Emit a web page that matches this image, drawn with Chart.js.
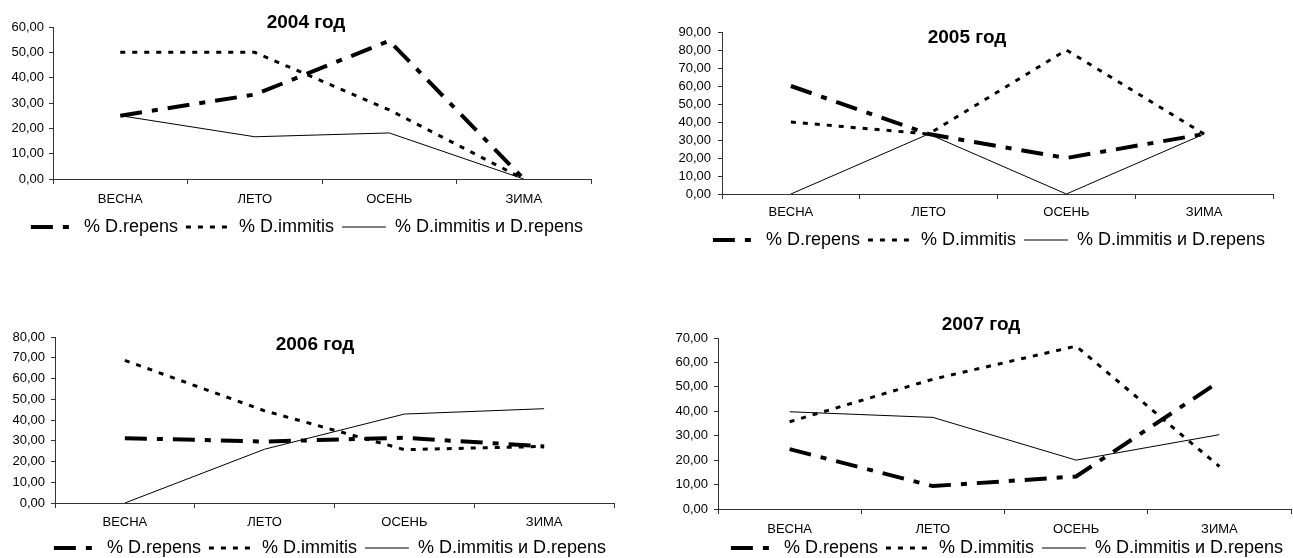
<!DOCTYPE html>
<html><head><meta charset="utf-8">
<script src="https://cdn.jsdelivr.net/npm/chart.js@4.4.1/dist/chart.umd.min.js"></script>
<style>
html,body{margin:0;padding:0;background:#fff;overflow:hidden;width:1293px;height:558px;position:relative;}
.box{position:absolute;}
canvas{display:block;}
</style></head><body>
<div class="box" style="left:0;top:0"><canvas id="c1" width="625" height="259"></canvas></div>
<div class="box" style="left:650px;top:0"><canvas id="c2" width="643" height="274"></canvas></div>
<div class="box" style="left:0;top:290px"><canvas id="c3" width="640" height="293"></canvas></div>
<div class="box" style="left:650px;top:290px"><canvas id="c4" width="643" height="299"></canvas></div>
<script>
// ---- data ----
const seasons = ['ВЕСНА', 'ЛЕТО', 'ОСЕНЬ', 'ЗИМА'];
const seriesNames = ['% D.repens', '% D.immitis', '% D.immitis и D.repens'];
const chartTitles = ['2004 год', '2005 год', '2006 год', '2007 год'];
const yMaxValues = [60, 90, 80, 70];

const repens2004 = [25.00, 33.33, 54.55, 0];
const immitis2004 = [50.00, 50.00, 27.27, 0];
const both2004 = [25.00, 16.67, 18.18, 0];

const repens2005 = [60.00, 33.33, 20.00, 33.33];
const immitis2005 = [40.00, 33.33, 80.00, 33.33];
const both2005 = [0, 33.33, 0, 33.33];

const repens2006 = [31.25, 29.63, 31.43, 27.27];
const immitis2006 = [68.75, 44.44, 25.71, 27.27];
const both2006 = [0, 25.93, 42.86, 45.45];

const repens2007 = [24.49, 9.38, 13.33, 52.17];
const immitis2007 = [35.71, 53.13, 66.67, 17.39];
const both2007 = [39.80, 37.50, 20.00, 30.43];

const FONT = '"Liberation Sans", Arial, Helvetica, sans-serif';
Chart.defaults.font.family = FONT;
Chart.defaults.color = '#000';

const LEG_FONT = 18, LEG_PAD = 8;

const innerTitle = {
  id: 'innerTitle',
  afterLayout(chart, args, opts) {
    // place the legend row at the requested vertical centre
    const L = chart.legend;
    if (L && opts.legY != null) {
      const h = L.height;
      L.top = opts.legY - LEG_PAD - LEG_FONT / 2;
      L.bottom = L.top + h;
    }
  },
  afterDraw(chart, args, opts) {
    const ctx = chart.ctx;
    ctx.save();
    ctx.font = 'bold 19px ' + FONT;
    ctx.fillStyle = '#000';
    ctx.textAlign = 'center';
    ctx.textBaseline = 'middle';
    ctx.fillText(opts.text, opts.x, opts.y);
    ctx.restore();
  }
};

function makeChart(id, title, yMax, repens, immitis, both, g) {
  const axisColor = '#333';
  return new Chart(document.getElementById(id), {
    type: 'line',
    data: {
      labels: seasons,
      datasets: [
        { label: seriesNames[0], data: repens, borderColor: '#000', backgroundColor: '#000',
          borderWidth: 4, borderDash: [22, 10, 6, 10], pointRadius: 0, pointHoverRadius: 0, tension: 0 },
        { label: seriesNames[1], data: immitis, borderColor: '#000', backgroundColor: '#000',
          borderWidth: 3, borderDash: [5, 7], pointRadius: 0, pointHoverRadius: 0, tension: 0 },
        { label: seriesNames[2], data: both, borderColor: '#000', backgroundColor: '#000',
          borderWidth: 1, pointRadius: 0, pointHoverRadius: 0, tension: 0 }
      ]
    },
    options: {
      responsive: false,
      animation: false,
      events: [],
      layout: { padding: { left: 0, right: g.padR, top: g.padT, bottom: 4 } },
      scales: {
        x: {
          type: 'category',
          offset: true,
          grid: { offset: true, drawOnChartArea: false, drawTicks: true, tickLength: 5, color: axisColor },
          border: { display: true, color: axisColor, width: 1 },
          ticks: { font: { size: 13 }, color: '#000', padding: g.xPad, maxRotation: 0, autoSkip: false },
          afterFit: s => { s.height = 40; }
        },
        y: {
          min: 0, max: yMax,
          grid: { drawOnChartArea: false, drawTicks: true, tickLength: 4, color: axisColor },
          border: { display: true, color: axisColor, width: 1 },
          ticks: { stepSize: 10, autoSkip: false, font: { size: 13 }, color: '#000', padding: g.yPad,
                   callback: v => Number(v).toFixed(2).replace('.', ',') },
          afterFit: s => { s.width = g.yW; }
        }
      },
      plugins: {
        tooltip: { enabled: false },
        title: { display: false },
        legend: {
          display: true,
          position: 'bottom',
          align: 'end',
          labels: {
            usePointStyle: true,
            pointStyle: 'line',
            pointStyleWidth: 44,
            font: { size: LEG_FONT },
            color: '#000',
            padding: LEG_PAD,
            generateLabels: chart => chart.data.datasets.map((ds, i) => ({
              text: ds.label,
              fillStyle: '#000',
              strokeStyle: '#000',
              fontColor: '#000',
              lineWidth: ds.borderWidth,
              lineDash: ds.borderDash || [],
              lineCap: 'butt',
              pointStyle: 'line',
              hidden: false,
              datasetIndex: i
            }))
          }
        },
        innerTitle: { text: title, x: g.tx, y: g.ty, legY: g.legY }
      }
    },
    plugins: [innerTitle]
  });
}

makeChart('c1', chartTitles[0], yMaxValues[0], repens2004, immitis2004, both2004,
  { padR: 34, padT: 27, xPad: 8, yW: 53, yPad: 5, tx: 306, ty: 23, legY: 227 });
makeChart('c2', chartTitles[1], yMaxValues[1], repens2005, immitis2005, both2005,
  { padR: 20, padT: 32, xPad: 6, yW: 72, yPad: 7, tx: 317, ty: 38, legY: 240 });
makeChart('c3', chartTitles[2], yMaxValues[2], repens2006, immitis2006, both2006,
  { padR: 26, padT: 47, xPad: 7, yW: 55, yPad: 6, tx: 315, ty: 55, legY: 258 });
makeChart('c4', chartTitles[3], yMaxValues[3], repens2007, immitis2007, both2007,
  { padR: 2, padT: 48, xPad: 8, yW: 68, yPad: 6, tx: 331, ty: 35, legY: 258 });
</script>
</body></html>
